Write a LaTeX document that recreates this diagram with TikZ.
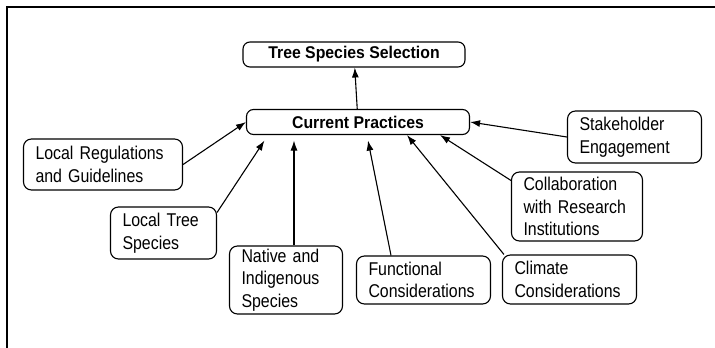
\documentclass[tikz,border=0pt]{standalone}
\usepackage{fontspec}
\setmainfont[FakeStretch=0.93]{Liberation Sans}
\newfontfamily\boxfont[FakeStretch=0.86]{Liberation Sans}
\usepackage{tikz}
\usetikzlibrary{shapes,arrows,arrows.meta,positioning}
\tikzstyle{practice} = [rectangle, draw, line width=1.1pt, rounded corners=7pt, font=\fontsize{17}{22.7}\selectfont\bfseries, align=center, minimum width=222pt, minimum height=25pt, inner sep=0pt]
\tikzstyle{factor} = [rectangle, draw, line width=1.1pt, rounded corners=8pt, font=\boxfont\fontsize{18.5}{22.7}\selectfont, align=left, inner xsep=12pt, inner ysep=2pt]
\tikzstyle{line} = [draw, line width=1.1pt, -{Latex[length=10pt,width=7pt]}]

\begin{document}
\begin{tikzpicture}[x=1pt, y=-1pt]
    \useasboundingbox (0,0) rectangle (715,348);
    \draw [line width=2pt] (7,348) -- (7,7) -- (715,7);

    \node [practice] (selection) at (354,54.5) {Tree Species Selection};
    \node [practice, minimum width=223pt] (current) at (358,122) {Current Practices};

    \node [factor, text width=135pt, minimum height=51pt] (regulations) at (103,164.5) {Local Regulations\\and Guidelines};
    \node [factor, text width=82pt, minimum height=52pt] (localtree) at (163.5,233) {Local Tree\\Species};
    \node [factor, text width=89pt, minimum height=68pt] (native) at (286,280) {Native and\\Indigenous\\Species};
    \node [factor, text width=110pt, minimum height=48pt] (functional) at (423.5,280) {Functional\\Considerations};
    \node [factor, text width=110pt, minimum height=49pt] (climate) at (569.5,279.5) {Climate\\Considerations};
    \node [factor, text width=107pt, minimum height=69pt] (research) at (577,206.5) {Collaboration\\with Research\\Institutions};
    \node [factor, text width=110pt, minimum height=52pt] (stakeholder) at (634.5,137) {Stakeholder\\Engagement};

    \path [line] (current) -- (selection);
    \path [line] (regulations.east) -- (current.west);
    \path [line] ([yshift=-6pt]localtree.north east) -- ([xshift=18.5pt,yshift=-5.5pt]current.south west);
    \path [line] ([xshift=8pt]native.north) -- ([xshift=-64pt,yshift=-5.5pt]current.south);
    \path [line] ([xshift=-32.5pt]functional.north) -- ([xshift=10pt,yshift=-5.5pt]current.south);
    \path [line] ([xshift=2pt]climate.north west) -- ([xshift=49pt]current.south);
    \path [line] ([yshift=-9pt]research.north west) -- ([xshift=82pt]current.south);
    \path [line] (stakeholder.west) -- (current.east);
\end{tikzpicture}
\end{document}
